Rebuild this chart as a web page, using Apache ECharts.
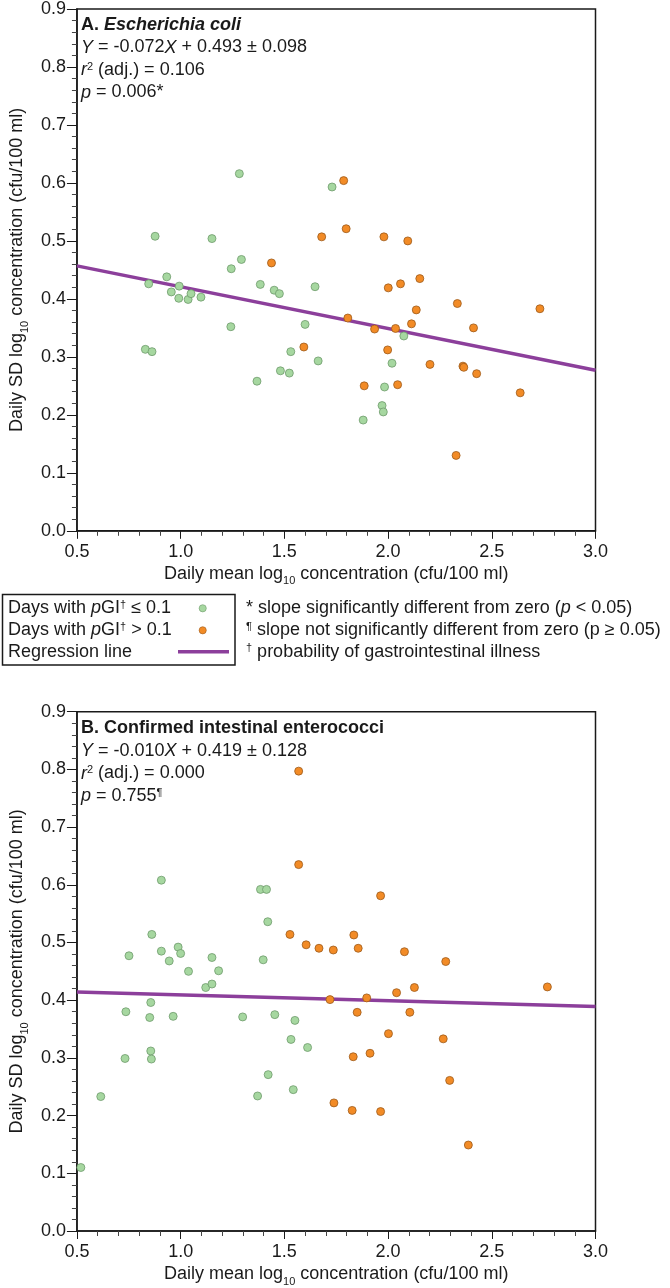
<!DOCTYPE html>
<html>
<head>
<meta charset="utf-8">
<script src="https://cdn.jsdelivr.net/npm/echarts@6/dist/echarts.min.js"></script>
<style>html,body{margin:0;padding:0;background:#fff;}#chart{width:670px;height:1288px;}</style>
</head>
<body>
<div id="chart"></div>
<script>
// ---------- Data ----------
// Panel A: Escherichia coli — [daily mean log10, daily SD log10]
const ecoliLow = [
  [1.283,0.616],[1.730,0.593],[0.877,0.508],[1.151,0.504],[1.293,0.468],[1.244,0.452],
  [0.933,0.438],[0.846,0.426],[0.955,0.412],[0.993,0.422],[0.991,0.401],[1.036,0.399],
  [1.050,0.409],[1.098,0.403],[1.384,0.425],[1.451,0.415],[1.476,0.409],[1.648,0.421],
  [1.242,0.352],[1.600,0.356],[0.830,0.313],[0.862,0.309],[1.531,0.309],[1.663,0.293],
  [1.481,0.276],[1.524,0.272],[1.368,0.258],[2.076,0.336],[2.019,0.289],[1.983,0.248],
  [1.971,0.216],[1.977,0.205],[1.880,0.191]
];
const ecoliHigh = [
  [1.786,0.604],[1.680,0.507],[1.438,0.462],[1.798,0.521],[1.980,0.507],[2.095,0.500],
  [2.153,0.435],[1.594,0.317],[2.001,0.419],[2.060,0.426],[2.334,0.392],[2.732,0.383],
  [2.136,0.381],[1.806,0.367],[2.113,0.357],[1.935,0.348],[2.036,0.349],[2.412,0.350],
  [1.998,0.312],[2.202,0.287],[2.361,0.284],[2.365,0.282],[2.427,0.271],[1.885,0.250],
  [2.046,0.252],[2.637,0.238],[2.328,0.130]
];
const ecoliLine = [[0.5,0.457],[3.0,0.277]];

// Panel B: Confirmed intestinal enterococci
const entLow = [
  [0.907,0.608],[1.385,0.592],[1.414,0.592],[1.420,0.536],[0.861,0.514],[0.751,0.477],
  [0.907,0.485],[0.988,0.492],[1.000,0.481],[0.945,0.468],[1.151,0.474],[1.398,0.470],
  [1.038,0.450],[1.183,0.451],[1.121,0.422],[1.151,0.428],[0.736,0.380],[0.856,0.396],
  [0.851,0.370],[0.964,0.372],[1.299,0.371],[1.454,0.375],[1.551,0.365],[1.532,0.332],
  [1.612,0.318],[0.732,0.299],[0.856,0.312],[0.859,0.298],[0.615,0.233],[1.422,0.271],
  [1.371,0.234],[1.543,0.245],[0.519,0.110]
];
const entHigh = [
  [1.569,0.797],[1.569,0.635],[1.527,0.514],[1.605,0.496],[1.667,0.490],[1.736,0.487],
  [1.964,0.581],[1.835,0.513],[1.856,0.490],[2.079,0.484],[2.278,0.467],[1.720,0.401],
  [2.768,0.423],[2.127,0.422],[2.041,0.413],[1.897,0.404],[1.851,0.379],[2.105,0.379],
  [2.002,0.342],[2.266,0.333],[1.913,0.308],[1.832,0.302],[2.297,0.261],[1.739,0.222],
  [1.827,0.209],[1.964,0.207],[2.387,0.149]
];
const entLine = [[0.5,0.414],[3.0,0.389]];

const xTicks = [0.5, 1.0, 1.5, 2.0, 2.5, 3.0];
const yTicks = [0.0, 0.1, 0.2, 0.3, 0.4, 0.5, 0.6, 0.7, 0.8, 0.9];

const panelA = ['{bi|A. }{bi2|Escherichia coli}', '{i|Y} = -0.072{i|X} + 0.493 ± 0.098', '{i|r}{sup|2} (adj.) = 0.106', '{i|p} = 0.006*'];
const panelB = ['{b|B. Confirmed intestinal enterococci}', '{i|Y} = -0.010{i|X} + 0.419 ± 0.128', '{i|r}{sup|2} (adj.) = 0.000', '{i|p} = 0.755{sup|¶}'];
const legendLabels = ['Days with {i|p}GI{sup|†} ≤ 0.1', 'Days with {i|p}GI{sup|†} > 0.1', 'Regression line'];
const notes = ['* slope significantly different from zero ({i|p} < 0.05)', '{sup|¶} slope not significantly different from zero (p ≥ 0.05)', '{sup|†} probability of gastrointestinal illness'];

// ---------- Styling ----------
const FF = "'Liberation Sans', Arial, Helvetica, sans-serif";
const INK = '#1a1a1a';
const GREEN = '#a6d7a0', GREEN_B = '#6f9a6c';
const ORANGE = '#f28b26', ORANGE_B = '#9c5a1c';
const PURPLE = '#8c3f9b';
const rich = {
  i: {fontStyle: 'italic', fontSize: 18, fontFamily: FF, color: INK},
  b: {fontWeight: 'bold', fontSize: 18, fontFamily: FF, color: INK},
  bi: {fontWeight: 'bold', fontSize: 18, fontFamily: FF, color: INK},
  bi2: {fontWeight: 'bold', fontStyle: 'italic', fontSize: 18, fontFamily: FF, color: INK},
  sup: {fontSize: 11, fontFamily: FF, color: INK, verticalAlign: 'top', lineHeight: 18},
  sub: {fontSize: 11, fontFamily: FF, color: INK, verticalAlign: 'bottom', lineHeight: 11, padding: [0,0,-4,0]}
};

const GRID_L = 73, GRID_W = 522.5, GRID_H = 522.5;
const TOPS = [8.3, 711.7];

function xAxis(i){
  return {
    gridIndex: i, type: 'value', min: 0.5, max: 3.0, interval: 0.5,
    name: 'Daily mean log{sub|10} concentration (cfu/100 ml)', nameLocation: 'middle', nameGap: 34,
    nameTextStyle: {fontSize: 18, fontFamily: FF, color: INK, rich: rich},
    axisLine: {show: true, lineStyle: {color: INK, width: 1.5}},
    axisTick: {show: true, length: 8, lineStyle: {color: INK, width: 1}},
    minorTick: {show: true, splitNumber: 5, length: 5, lineStyle: {color: '#444', width: 1}},
    axisLabel: {fontSize: 18, fontFamily: FF, color: INK, margin: 12, formatter: v => v.toFixed(1), showMinLabel: true, showMaxLabel: true},
    splitLine: {show: false}, minorSplitLine: {show: false}
  };
}
function yAxis(i){
  return {
    gridIndex: i, type: 'value', min: 0, max: 0.9, interval: 0.1,
    name: 'Daily SD log{sub|10} concentration (cfu/100 ml)', nameLocation: 'middle', nameGap: 39, nameRotate: 90,
    nameTextStyle: {fontSize: 18, fontFamily: FF, color: INK, rich: rich},
    axisLine: {show: true, lineStyle: {color: INK, width: 1.5}},
    axisTick: {show: true, length: 10, lineStyle: {color: INK, width: 1}},
    minorTick: {show: true, splitNumber: 5, length: 5, lineStyle: {color: '#444', width: 1}},
    axisLabel: {fontSize: 18, fontFamily: FF, color: INK, margin: 11, formatter: v => v.toFixed(1), showMinLabel: true, showMaxLabel: true},
    splitLine: {show: false}, minorSplitLine: {show: false}
  };
}
function scatter(i, data, fill, border){
  return {type: 'scatter', xAxisIndex: i, yAxisIndex: i, data: data, symbolSize: 8, z: 3,
    itemStyle: {color: fill, borderColor: border, borderWidth: 0.8, opacity: 1}, silent: true};
}
function regLine(i, data){
  return {type: 'line', xAxisIndex: i, yAxisIndex: i, data: data, showSymbol: false, z: 2,
    lineStyle: {color: PURPLE, width: 3.5}, silent: true};
}
function textLines(lines, x, y0, step){
  return lines.map((t, k) => ({type: 'text', x: x, y: y0 + k*step, z: 10,
    style: {text: t, rich: rich, fontSize: 18, fontFamily: FF, fill: INK, verticalAlign: 'middle', align: 'left'}}));
}

const graphics = [].concat(
  textLines(panelA, 81, 25, 22.5),
  textLines(panelB, 81, 728.5, 22.5),
  [{type: 'rect', shape: {x: 2.5, y: 594.5, width: 232.5, height: 70.5}, style: {fill: 'none', stroke: INK, lineWidth: 1.5}, z: 10}],
  textLines(legendLabels, 8, 608.3, 21.7),
  [
    {type: 'circle', shape: {cx: 202.7, cy: 608.3, r: 3.6}, style: {fill: GREEN, stroke: GREEN_B, lineWidth: 0.6}, z: 10},
    {type: 'circle', shape: {cx: 202.7, cy: 630.3, r: 3.6}, style: {fill: ORANGE, stroke: ORANGE_B, lineWidth: 0.6}, z: 10},
    {type: 'line', shape: {x1: 178, y1: 651.7, x2: 229, y2: 651.7}, style: {stroke: PURPLE, lineWidth: 3.5}, z: 10}
  ],
  textLines(notes, 246, 608.3, 21.7)
);

const chart = echarts.init(document.getElementById('chart'), null, {renderer: 'canvas'});
chart.setOption({
  backgroundColor: '#fff',
  animation: false,
  grid: TOPS.map(t => ({left: GRID_L, top: t, width: GRID_W, height: GRID_H, show: true, borderColor: INK, borderWidth: 1.5, backgroundColor: 'transparent'})),
  xAxis: [xAxis(0), xAxis(1)],
  yAxis: [yAxis(0), yAxis(1)],
  series: [
    regLine(0, ecoliLine), scatter(0, ecoliLow, GREEN, GREEN_B), scatter(0, ecoliHigh, ORANGE, ORANGE_B),
    regLine(1, entLine), scatter(1, entLow, GREEN, GREEN_B), scatter(1, entHigh, ORANGE, ORANGE_B)
  ],
  graphic: graphics
});
</script>
</body>
</html>
